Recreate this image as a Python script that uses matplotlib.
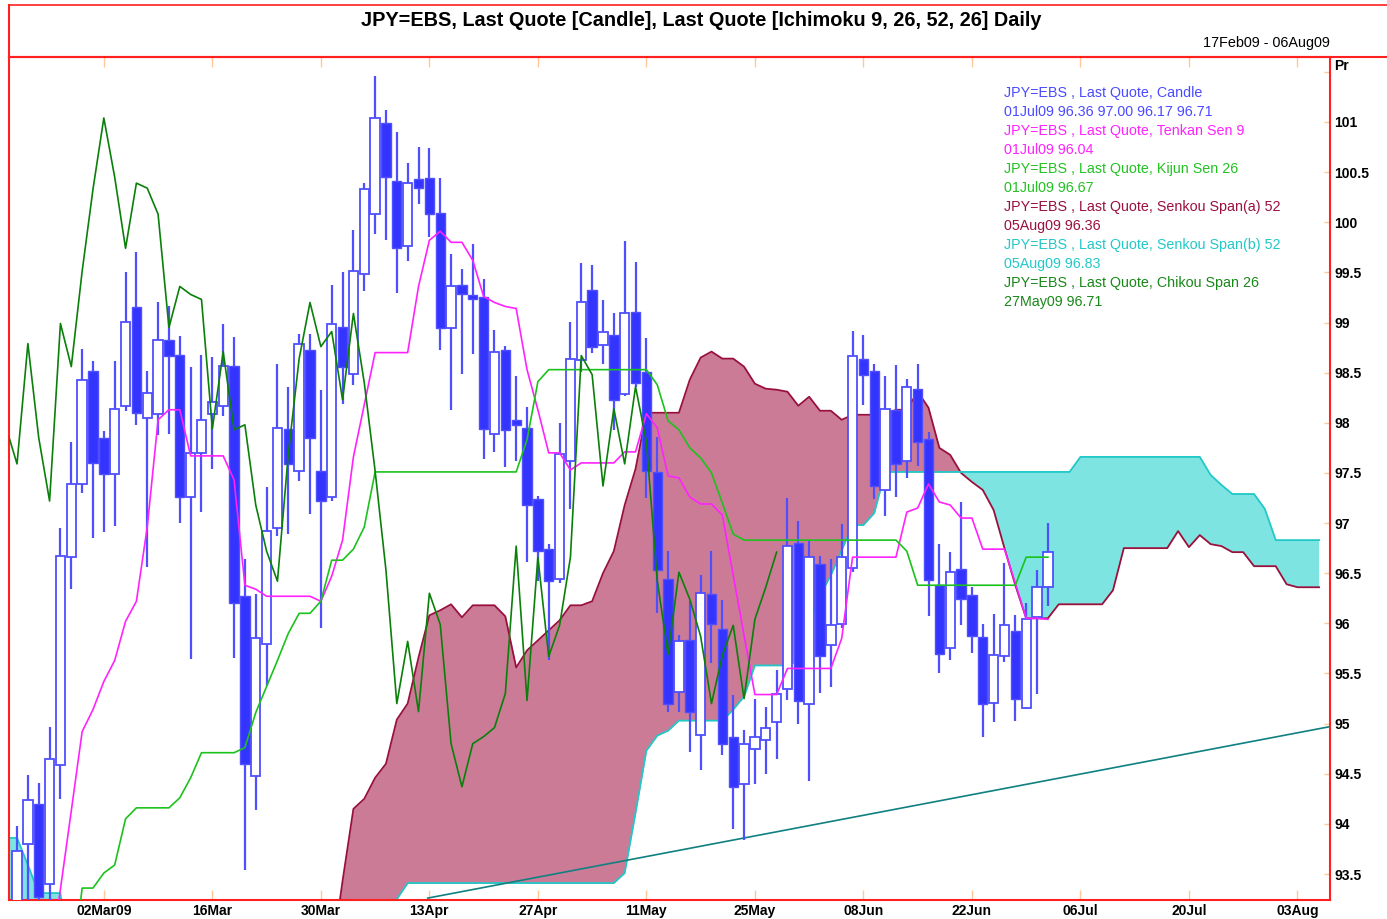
import numpy as np
import pandas as pd
import matplotlib
matplotlib.use("Agg")
import matplotlib.pyplot as plt
from matplotlib.lines import Line2D

plt.rcParams['font.family'] = ['Liberation Sans', 'DejaVu Sans']

W, H = 1387, 919

# weekday axis, index 0 = 17Feb09
days = pd.bdate_range('2009-02-17', '2009-08-06')

tick_dates = ['2009-03-02', '2009-03-16', '2009-03-30', '2009-04-13', '2009-04-27', '2009-05-11',
              '2009-05-25', '2009-06-08', '2009-06-22', '2009-07-06', '2009-07-20', '2009-08-03']
tick_labels = ['02Mar09', '16Mar', '30Mar', '13Apr', '27Apr', '11May',
               '25May', '08Jun', '22Jun', '06Jul', '20Jul', '03Aug']

# candles 18Feb09 .. 01Jul09
candle_start = 1
opens = [93.15, 93.80, 94.20, 93.40, 94.59, 96.66, 97.39, 98.52, 97.85, 97.49,
         98.17, 99.15, 98.05, 98.09, 98.83, 98.68, 97.26, 97.70, 98.09, 98.17,
         98.57, 96.27, 94.48, 95.79, 96.95, 97.94, 97.52, 98.73, 97.52, 97.26,
         98.96, 98.49, 99.48, 100.08, 100.99, 100.41, 99.76, 100.43, 100.44, 100.09,
         98.95, 99.37, 99.27, 99.25, 97.89, 98.73, 98.03, 97.95, 97.24, 96.74,
         96.44, 97.62, 98.63, 99.32, 98.78, 98.88, 98.29, 99.10, 98.51, 97.51,
         96.44, 95.32, 95.83, 94.89, 96.29, 95.94, 94.87, 94.40, 94.75, 94.84,
         95.02, 95.35, 96.80, 95.20, 96.59, 95.78, 95.99, 96.55, 98.64, 98.52,
         97.33, 98.13, 97.62, 98.34, 97.84, 96.38, 95.75, 96.54, 96.28, 95.86,
         95.21, 95.67, 95.92, 95.16, 96.06, 96.36]
highs = [93.98, 94.49, 94.41, 94.97, 96.95, 97.81, 98.74, 98.62, 97.92, 98.62,
         99.50, 99.70, 98.52, 99.20, 99.16, 98.87, 98.56, 98.68, 98.66, 98.99,
         98.86, 96.64, 96.29, 97.36, 98.59, 98.36, 98.89, 98.89, 98.33, 99.37,
         99.50, 99.92, 100.39, 101.46, 101.12, 100.90, 100.59, 100.75, 100.74, 100.44,
         99.68, 99.53, 99.78, 99.43, 98.93, 98.77, 98.47, 98.16, 97.27, 96.79,
         98.00, 99.01, 99.59, 99.57, 99.22, 99.09, 99.81, 99.60, 98.85, 97.86,
         96.72, 95.88, 96.22, 96.48, 96.72, 96.23, 95.29, 94.94, 95.25, 95.17,
         95.53, 97.25, 97.02, 96.83, 96.67, 96.64, 96.99, 98.92, 98.88, 98.59,
         98.47, 98.58, 98.44, 98.59, 97.91, 96.79, 96.71, 97.21, 96.36, 95.99,
         96.09, 96.60, 96.08, 96.20, 96.53, 97.00]
lows = [93.10, 93.15, 93.15, 93.20, 94.25, 96.34, 97.30, 96.85, 96.91, 96.97,
        98.12, 97.98, 96.56, 97.88, 97.89, 97.00, 95.64, 97.11, 97.54, 98.07,
        95.65, 93.54, 94.14, 95.38, 96.87, 96.89, 97.42, 97.09, 95.95, 97.22,
        98.19, 98.38, 99.31, 99.88, 99.82, 99.29, 99.61, 100.18, 99.85, 98.73,
        98.13, 98.49, 98.69, 97.64, 97.71, 97.56, 97.62, 96.61, 96.42, 95.63,
        96.40, 97.14, 98.51, 98.70, 98.59, 97.93, 98.27, 98.36, 97.25, 96.10,
        95.12, 95.12, 94.72, 94.54, 95.60, 94.69, 93.95, 93.84, 94.40, 94.50,
        94.65, 95.24, 95.00, 94.43, 95.31, 95.37, 95.95, 96.51, 98.18, 97.24,
        97.07, 97.26, 97.45, 97.57, 96.07, 95.50, 95.63, 95.98, 95.70, 94.87,
        95.02, 95.61, 95.03, 95.15, 95.30, 96.17]
closes = [93.73, 94.24, 93.27, 94.65, 96.67, 97.39, 98.43, 97.60, 97.49, 98.14,
          99.01, 98.10, 98.30, 98.83, 98.67, 97.26, 97.70, 98.03, 98.21, 98.57,
          96.20, 94.60, 95.85, 96.92, 97.95, 97.59, 98.79, 97.85, 97.22, 98.99,
          98.56, 99.51, 100.33, 101.04, 100.45, 99.74, 100.39, 100.34, 100.08, 98.95,
          99.36, 99.28, 99.23, 97.94, 98.71, 97.93, 97.98, 97.18, 96.72, 96.42,
          97.69, 98.64, 99.20, 98.76, 98.91, 98.23, 99.09, 98.40, 97.52, 96.53,
          95.20, 95.82, 95.12, 96.30, 95.99, 94.80, 94.37, 94.80, 94.87, 94.96,
          95.30, 96.77, 95.23, 96.66, 95.67, 95.98, 96.66, 98.67, 98.48, 97.37,
          98.14, 97.59, 98.36, 97.81, 96.43, 95.69, 96.51, 96.24, 95.87, 95.20,
          95.68, 95.98, 95.25, 96.04, 96.36, 96.71]

# Tenkan Sen 9
tenkan_start = 4
tenkan = [92.60, 93.35, 94.13, 94.92, 95.14, 95.42, 95.63, 96.02, 96.22, 96.96,
          98.03, 98.13, 98.13, 97.67, 97.67, 97.67, 97.67, 97.43, 96.38, 96.34,
          96.27, 96.27, 96.27, 96.27, 96.27, 96.22, 96.47, 96.83, 97.66, 98.18,
          98.70, 98.70, 98.70, 98.70, 99.36, 99.82, 99.91, 99.80, 99.80, 99.62,
          99.26, 99.20, 99.16, 99.14, 98.53, 98.13, 97.70, 97.70, 97.53, 97.60,
          97.60, 97.60, 97.60, 97.71, 97.71, 98.09, 97.95, 97.47, 97.45, 97.26,
          97.19, 97.19, 97.08, 96.48, 95.88, 95.29, 95.29, 95.29, 95.55, 95.55,
          95.55, 95.55, 95.55, 95.85, 96.66, 96.66, 96.66, 96.66, 96.66, 97.11,
          97.15, 97.39, 97.21, 97.18, 97.05, 97.05, 96.74, 96.74, 96.74, 96.40,
          96.05, 96.05, 96.04]

# Kijun Sen 26
kijun_start = 6
kijun = [92.45, 93.36, 93.36, 93.51, 93.59, 94.05, 94.16, 94.16, 94.16, 94.16,
         94.26, 94.46, 94.71, 94.71, 94.71, 94.71, 94.76, 95.11, 95.37, 95.63,
         95.90, 96.10, 96.10, 96.22, 96.63, 96.63, 96.74, 96.96, 97.51, 97.51,
         97.51, 97.51, 97.51, 97.51, 97.51, 97.51, 97.51, 97.51, 97.51, 97.51,
         97.51, 97.51, 97.83, 98.41, 98.53, 98.53, 98.53, 98.53, 98.53, 98.53,
         98.53, 98.53, 98.53, 98.53, 98.38, 98.02, 97.93, 97.75, 97.65, 97.50,
         97.20, 96.89, 96.83, 96.83, 96.83, 96.83, 96.83, 96.83, 96.83, 96.83,
         96.83, 96.83, 96.83, 96.83, 96.83, 96.83, 96.83, 96.72, 96.38, 96.38,
         96.38, 96.38, 96.38, 96.38, 96.38, 96.38, 96.38, 96.38, 96.66, 96.66,
         96.66]

# Chikou Span 26
chikou_start = 0
chikou = [97.95, 97.59, 98.79, 97.85, 97.22, 98.99, 98.56, 99.51, 100.33, 101.04,
          100.45, 99.74, 100.39, 100.34, 100.08, 98.95, 99.36, 99.28, 99.23, 97.94,
          98.71, 97.93, 97.98, 97.18, 96.72, 96.42, 97.69, 98.64, 99.20, 98.76,
          98.91, 98.23, 99.09, 98.40, 97.52, 96.53, 95.20, 95.82, 95.12, 96.30,
          95.99, 94.80, 94.37, 94.80, 94.87, 94.96, 95.30, 96.77, 95.23, 96.66,
          95.67, 95.98, 96.66, 98.67, 98.48, 97.37, 98.14, 97.59, 98.36, 97.81,
          96.43, 95.69, 96.51, 96.24, 95.87, 95.20, 95.68, 95.98, 95.25, 96.04,
          96.36, 96.71]

# Senkou Span (a) 52, index 0 .. 121 (values below 93.24 lie under the axis)
span_a = [92.50] * 30 + [
          92.66, 93.43, 94.15, 94.25, 94.46, 94.60, 95.04, 95.20, 95.66, 96.08,
          96.13, 96.19, 96.06, 96.18, 96.18, 96.18, 96.07, 95.56, 95.73, 95.83,
          95.93, 96.03, 96.18, 96.18, 96.22, 96.50, 96.72, 97.18, 97.54, 98.10,
          98.10, 98.10, 98.10, 98.43, 98.65, 98.71, 98.64, 98.64, 98.56, 98.39,
          98.34, 98.33, 98.31, 98.17, 98.26, 98.12, 98.12, 98.03, 98.08, 98.08,
          98.08, 98.08, 98.13, 98.13, 98.31, 98.15, 97.75, 97.68, 97.50, 97.41,
          97.33, 97.13, 96.75, 96.38, 96.05, 96.05, 96.05, 96.19, 96.19, 96.19,
          96.19, 96.19, 96.33, 96.75, 96.75, 96.75, 96.75, 96.75, 96.92, 96.76,
          96.88, 96.79, 96.77, 96.71, 96.71, 96.57, 96.57, 96.57, 96.39, 96.36,
          96.36, 96.36]

# Senkou Span (b) 52, index 0 .. 121
span_b = [93.86, 93.86, 93.59, 93.31, 93.31, 93.31] + [92.40] * 30 + [
          93.25, 93.41, 93.41, 93.41, 93.41, 93.41, 93.41, 93.41, 93.41, 93.41,
          93.41, 93.41, 93.41, 93.41, 93.41, 93.41, 93.41, 93.41, 93.41, 93.41,
          93.41, 93.51, 94.11, 94.73, 94.88, 94.93, 95.03, 95.03, 95.03, 95.03,
          95.03, 95.14, 95.27, 95.58, 95.58, 95.58, 95.58, 95.63, 96.00, 96.28,
          96.48, 96.73, 96.98, 96.98, 97.10, 97.51, 97.51, 97.51, 97.51, 97.51,
          97.51, 97.51, 97.51, 97.51, 97.51, 97.51, 97.51, 97.51, 97.51, 97.51,
          97.51, 97.51, 97.51, 97.66, 97.66, 97.66, 97.66, 97.66, 97.66, 97.66,
          97.66, 97.66, 97.66, 97.66, 97.66, 97.48, 97.38, 97.29, 97.29, 97.29,
          97.14, 96.83, 96.83, 96.83, 96.83, 96.83]

# drawn trend line (axis index, price)
trend_idx = [38.85, 122.0]
trend_val = [93.26, 94.97]

legend_lines = [
    ("JPY=EBS , Last Quote, Candle", '#4a4aff'),
    ("01Jul09 96.36 97.00 96.17 96.71", '#4a4aff'),
    ("JPY=EBS , Last Quote, Tenkan Sen 9", '#ff22ff'),
    ("01Jul09 96.04", '#ff22ff'),
    ("JPY=EBS , Last Quote, Kijun Sen 26", '#22c222'),
    ("01Jul09 96.67", '#22c222'),
    ("JPY=EBS , Last Quote, Senkou Span(a) 52", '#9a1040'),
    ("05Aug09 96.36", '#9a1040'),
    ("JPY=EBS , Last Quote, Senkou Span(b) 52", '#22c8c8'),
    ("05Aug09 96.83", '#22c8c8'),
    ("JPY=EBS , Last Quote, Chikou Span 26", '#188818'),
    ("27May09 96.71", '#188818'),
]

RED = '#ff2020'
TICK = '#ffc896'


def fx(px):
    return px / W


def fy(py):
    return 1 - py / H


fig = plt.figure(figsize=(W / 100, H / 100), dpi=100)
ax = fig.add_axes([fx(9), fy(900), fx(1330) - fx(9), fy(57) - fy(900)])

# cloud
xa = np.arange(len(span_a))
a = np.array(span_a)
b = np.array(span_b)
ax.fill_between(xa, a, b, where=a >= b, interpolate=True, color='#cc7b97', lw=0, zorder=1)
ax.fill_between(xa, a, b, where=a < b, interpolate=True, color='#7ee4e2', lw=0, zorder=1)
ax.plot(xa, a, color='#99103d', lw=1.3, zorder=2)
ax.plot(xa, b, color='#22c8c8', lw=1.3, zorder=2)

ax.plot(trend_idx, trend_val, color='#108080', lw=1.2, zorder=2)

# candles
ci = np.arange(candle_start, candle_start + len(opens))
o = np.array(opens)
c = np.array(closes)
ax.vlines(ci, lows, highs, color='#4f4fff', lw=1.6, zorder=3)
up = c >= o
ax.bar(ci[up], (c - o)[up], bottom=o[up], width=0.86, color='white',
       edgecolor='#4f4fff', lw=1.3, zorder=4)
ax.bar(ci[~up], (o - c)[~up], bottom=c[~up], width=0.86, color='#3434ff',
       edgecolor='#4f4fff', lw=1.0, zorder=4)

# lines
ax.plot(np.arange(tenkan_start, tenkan_start + len(tenkan)), tenkan, color='#ff22ff', lw=1.2, zorder=5)
ax.plot(np.arange(kijun_start, kijun_start + len(kijun)), kijun, color='#1cc21c', lw=1.2, zorder=5)
ax.plot(np.arange(chikou_start, chikou_start + len(chikou)), chikou, color='#0a800a', lw=1.2, zorder=5)

ax.set_xlim(0.26, 122.0)
ax.set_ylim(93.241, 101.648)

pos = days.get_indexer(pd.to_datetime(tick_dates))
ax.set_xticks(pos)
ax.set_xticklabels(tick_labels, fontsize=10, fontweight='bold')
ax.tick_params(axis='x', direction='in', length=7, color=TICK, width=1, top=True, pad=3)

ax.yaxis.tick_right()
yt = np.arange(93.5, 101.01, 0.5)
ax.set_yticks(list(yt) + [101.5])
ax.set_yticklabels(['%g' % v for v in yt] + [''], fontsize=10, fontweight='bold')
ax.tick_params(axis='y', direction='in', length=4, color=TICK, width=1, pad=3, right=True, left=False)

for s in ax.spines.values():
    s.set_color(RED)
    s.set_linewidth(1.5)

# title box
fig.add_artist(Line2D([fx(9), 1], [fy(5), fy(5)], color=RED, lw=1.2))
fig.add_artist(Line2D([fx(9), fx(9)], [fy(5), fy(57)], color=RED, lw=1.5))
fig.add_artist(Line2D([fx(9), 1], [fy(57), fy(57)], color=RED, lw=1.5))

fig.text(fx(701), fy(21), "JPY=EBS, Last Quote [Candle], Last Quote [Ichimoku 9, 26, 52, 26] Daily",
         ha='center', va='center', fontsize=14.3, fontweight='bold')
fig.text(fx(1330), fy(43), "17Feb09 - 06Aug09", ha='right', va='center', fontsize=10.4)
fig.text(fx(1334), fy(66), "Pr", ha='left', va='center', fontsize=10, fontweight='bold')

for k, (txt, col) in enumerate(legend_lines):
    fig.text(fx(1004), fy(93 + 19 * k), txt, ha='left', va='center', fontsize=10.25, color=col)

fig.savefig('out.png', dpi=100)
